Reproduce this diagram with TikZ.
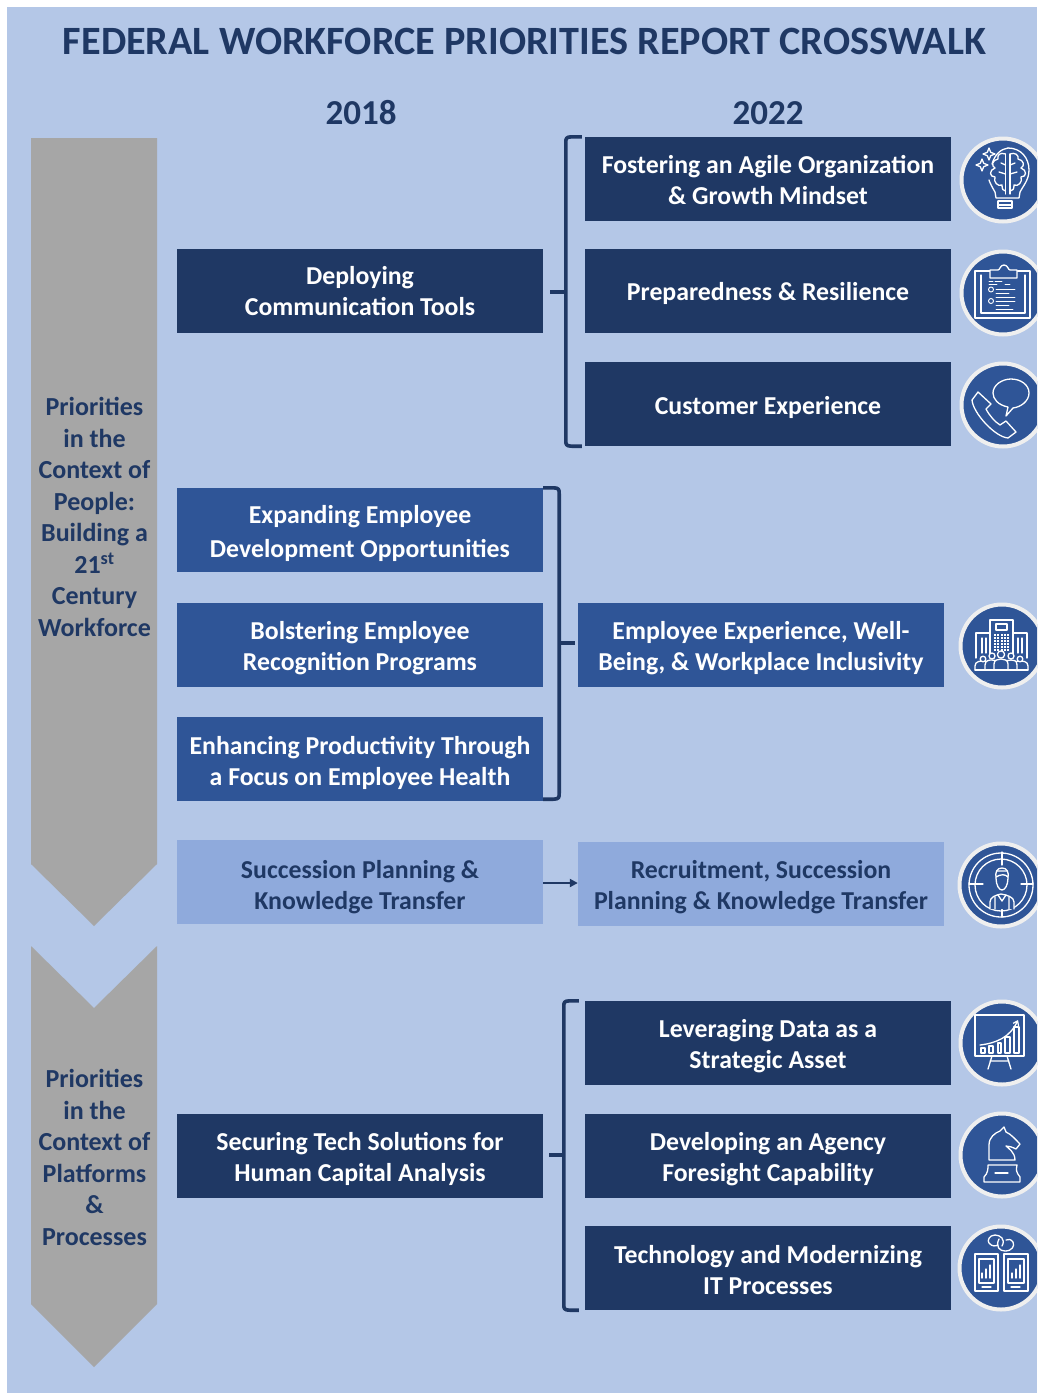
\documentclass[tikz,border=0pt]{standalone}
\usepackage{fontspec}
\setmainfont{Carlito}
\usetikzlibrary{calc,arrows.meta}
\definecolor{bgblue}{HTML}{B4C7E7}
\definecolor{navy}{HTML}{1F3864}
\definecolor{midblue}{HTML}{2F5597}
\definecolor{lightblue}{HTML}{8FAADC}
\definecolor{arrowgray}{HTML}{A6A6A6}
\definecolor{ringgray}{HTML}{EFEFEF}
\tikzset{
  boxbase/.style={rectangle,minimum width=366pt,minimum height=84pt,inner sep=0pt,align=center,
    font=\fontsize{25.8}{31}\selectfont\bfseries},
  darkbox/.style={boxbase,fill=navy,text=white},
  midbox/.style={boxbase,fill=midblue,text=white},
  lightbox/.style={boxbase,fill=lightblue,text=navy},
  bracketline/.style={draw=navy,line width=3.6pt,line join=round},
  head/.style={text=navy,font=\fontsize{35}{38}\selectfont\bfseries},
  coltext/.style={text=navy,align=center,inner sep=0pt,font=\fontsize{26}{31.5}\selectfont\bfseries},
  ic/.style={draw=white,line width=1.3pt,line join=round,line cap=round},
  icf/.style={ic,fill=midblue},
  dot/.style={fill=white,draw=none}
}
\newcommand{\bt}[2]{\raisebox{\dimexpr-6.5pt-#1pt\relax}[0pt][0pt]{\begin{tabular}{@{}c@{}}#2\end{tabular}}}
\newcommand{\iconcircle}{\fill[midblue,draw=ringgray,line width=4pt] (0,0) circle (41.5);}
\newcommand{\spark}[3]{\draw[ic] (#1,#2-#3) -- (#1+.28*#3,#2-.28*#3) -- (#1+#3,#2) -- (#1+.28*#3,#2+.28*#3) -- (#1,#2+#3) -- (#1-.28*#3,#2+.28*#3) -- (#1-#3,#2) -- (#1-.28*#3,#2-.28*#3) -- cycle;}
\begin{document}
\begin{tikzpicture}[x=1pt,y=-1pt]
\clip (0,0) rectangle (1037,1393);
\fill[white] (0,0) rectangle (1037,1393);
\fill[bgblue] (7,7) rectangle (1037,1393);
\node[text=navy,font=\fontsize{40.2}{42}\selectfont\bfseries] (title) at (524.5,41) {FEDERAL WORKFORCE PRIORITIES REPORT CROSSWALK};
\node[head] (y18) at (361,113) {2018};
\node[head] (y22) at (768,113) {2022};
% grey arrows
\fill[arrowgray] (31,138) -- (157,138) -- (157,864) -- (94,926) -- (31,864) -- cycle;
\fill[arrowgray] (31,946) -- (94,1008) -- (157,946) -- (157,1304) -- (94,1367) -- (31,1304) -- cycle;
\node[coltext] (col1) at (94.5,517) {Priorities\\in the\\Context of\\People:\\Building a\\21\textsuperscript{st}\\Century\\Workforce};
\node[coltext] (col2) at (94.5,1157.5) {Priorities\\in the\\Context of\\Platforms\\\&\\Processes};
% left boxes
\node[darkbox] (deploy) at (360,291) {\bt{2.5}{Deploying\\Communication Tools}};
\node[midbox] (expand) at (360,530) {\bt{4}{Expanding Employee\\[3pt]Development Opportunities}};
\node[midbox] (bolster) at (360,645) {\bt{3.5}{Bolstering Employee\\Recognition Programs}};
\node[midbox] (enhance) at (360,759) {\bt{4.5}{Enhancing Productivity Through\\a Focus on Employee Health}};
\node[lightbox] (succ) at (360,882) {\bt{5.5}{Succession Planning \&\\Knowledge Transfer}};
\node[darkbox] (secure) at (360,1156) {\bt{3.5}{Securing Tech Solutions for\\Human Capital Analysis}};
% right boxes
\node[darkbox] (agile) at (768,179) {\bt{3.5}{Fostering an Agile Organization\\\& Growth Mindset}};
\node[darkbox] (prep) at (768,291) {\bt{3}{Preparedness \& Resilience}};
\node[darkbox] (cust) at (768,404) {\bt{4}{Customer Experience}};
\node[midbox] (empx) at (761,645) {\bt{3.5}{Employee Experience, Well-\\Being, \& Workplace Inclusivity}};
\node[lightbox] (recr) at (761,884) {\bt{3.5}{Recruitment, Succession\\Planning \& Knowledge Transfer}};
\node[darkbox] (data) at (768,1043) {\bt{3.5}{Leveraging Data as a\\Strategic Asset}};
\node[darkbox] (fore) at (768,1156) {\bt{3.5}{Developing an Agency\\Foresight Capability}};
\node[darkbox] (tech) at (768,1268) {\bt{4.5}{Technology and Modernizing\\IT Processes}};
% brackets
\coordinate (b1m) at ($(prep.west)+(-19,0)$);
\draw[bracketline] ($(agile.north west)+(-3,0)$) -- ($(agile.north west)+(-13,0)$) .. controls ($(agile.north west)+(-19,0)$) and ($(agile.north west)+(-19,2)$) .. ($(agile.north west)+(-19,6)$) -- ($(cust.south west)+(-19,-6)$) .. controls ($(cust.south west)+(-19,-2)$) and ($(cust.south west)+(-19,0)$) .. ($(cust.south west)+(-13,0)$) -- ($(cust.south west)+(-3,0)$);
\draw[bracketline] ($(deploy.east)+(7,1)$) -- ($(b1m)+(0,1)$);
\coordinate (b2m) at ($(bolster.east)+(16,-2)$);
\draw[bracketline] (expand.north east) -- ($(expand.north east)+(10,0)$) .. controls ($(expand.north east)+(16,0)$) and ($(expand.north east)+(16,2)$) .. ($(expand.north east)+(16,6)$) -- ($(enhance.south east)+(16,-8)$) .. controls ($(enhance.south east)+(16,-4)$) and ($(enhance.south east)+(16,-2)$) .. ($(enhance.south east)+(10,-2)$) -- ($(enhance.south east)+(0,-2)$);
\draw[bracketline] (b2m) -- ($(empx.west)+(-3,-2)$);
\coordinate (b3m) at ($(fore.west)+(-21,0)$);
\draw[bracketline] ($(data.north west)+(-6,0)$) -- ($(data.north west)+(-15,0)$) .. controls ($(data.north west)+(-21,0)$) and ($(data.north west)+(-21,2)$) .. ($(data.north west)+(-21,6)$) -- ($(tech.south west)+(-21,-6)$) .. controls ($(tech.south west)+(-21,-2)$) and ($(tech.south west)+(-21,0)$) .. ($(tech.south west)+(-15,0)$) -- ($(tech.south west)+(-6,0)$);
\draw[bracketline] ($(secure.east)+(6,-1)$) -- ($(b3m)+(0,-1)$);
\draw[draw=navy,line width=2pt,-{Triangle[length=8pt,width=8pt]}] ($(succ.east)+(0,1)$) -- ($(recr.west)+(0,-1)$);
% icon 1: bulb and brain
\begin{scope}[shift={(1003,180)}]
\iconcircle
\draw[ic] (5,-32) .. controls (18,-32) and (26,-22) .. (26,-10) .. controls (26,0) and (20,6) .. (17,12) -- (16,18) -- (-7,18) -- (-8,12) .. controls (-11,7) and (-13,3) .. (-14,0);
\draw[ic] (-11,-16) .. controls (-8,-26) and (-2,-31) .. (5,-32);
\draw[ic] (2.5,-26) -- (2.5,14) (7,-26) -- (7,14);
\draw[ic] (2.5,-26) .. controls (-3,-28) and (-6,-25) .. (-5,-21) .. controls (-11,-20) and (-12,-14) .. (-8,-12) .. controls (-14,-10) and (-14,-3) .. (-8,-3) .. controls (-10,2) and (-5,7) .. (-1,5) .. controls (-1,9) and (0,11) .. (2.5,11);
\draw[ic] (7,-26) .. controls (12,-28) and (16,-25) .. (15,-21) .. controls (21,-20) and (22,-14) .. (18,-12) .. controls (24,-10) and (24,-3) .. (18,-3) .. controls (20,2) and (15,7) .. (11,5) .. controls (11,9) and (10,11) .. (7,11);
\draw[ic] (-2,-17) -- (2.5,-15) (-4,-8) -- (2.5,-6) (12,-17) -- (7,-15) (14,-8) -- (7,-6);
\draw[ic] (-5,21) -- (9,21) (-5,25) -- (9,25) (-5,28) -- (9,28) (-5,21) -- (-5,28) (9,21) -- (9,28);
\spark{-14}{-26}{6}
\spark{-21}{-15}{6}
\end{scope}
% icon 2: clipboard
\begin{scope}[shift={(1003,293)}]
\iconcircle
\draw[ic] (-28,-22) rectangle (27,25);
\draw[ic] (-22,-18) -- (-22,20) -- (22,20) -- (22,-18);
\draw[icf] (-13,-15) -- (-13,-23) -- (-5,-23) .. controls (-3,-23) and (-3,-28) .. (1,-28) .. controls (5,-28) and (5,-23) .. (7,-23) -- (14,-23) -- (14,-15) -- cycle;
\draw[ic,line width=.9pt] (-14,-12) -- (-10,-12) (-8,-12) -- (-1,-12) (-14,-9) -- (-6,-9) (2,-9) -- (7,-9);
\draw[ic,line width=.9pt] (-12,-3.5) circle (2.5) (-12,8) circle (2.5);
\draw[ic,line width=.9pt] (-7,-3.5) -- (12,-3.5) (-7,0) -- (6,0) (-7,4) -- (12,4) (-7,8) -- (12,8) (-7,12) -- (6,12) (-7,16) -- (10,16);
\end{scope}
% icon 3: phone and bubble
\begin{scope}[shift={(1003,405)}]
\iconcircle
\draw[ic] (-25,-13) -- (-31,-5) .. controls (-30,8) and (-8,32) .. (5,33) -- (13,27) -- (3,16) -- (-3,20) .. controls (-8,17) and (-14,10) .. (-17,4) -- (-12,-1) -- cycle;
\draw[ic] (3,11) -- (5,2) .. controls (-5,0) and (-10,-6) .. (-10,-12) .. controls (-10,-20) and (-1,-26) .. (8,-26) .. controls (18,-26) and (26,-20) .. (26,-12) .. controls (26,-4) and (18,2) .. (10,3) -- cycle;
\end{scope}
% icon 4: buildings and people
\begin{scope}[shift={(1002,646)}]
\iconcircle
\draw[ic] (-26,12) -- (-26,-13) -- (-12,-13) (25,12) -- (25,-13) -- (12,-13);
\draw[ic] (-12,8) -- (-12,-26) -- (11,-26) -- (11,8);
\draw[ic] (-6,-22) rectangle (5,-16);
\draw[ic] (-20,-8) -- (-20,7) (-16,-8) -- (-16,7) (16,-8) -- (16,7) (20,-8) -- (20,7);
\foreach \xx in {-7,-3.7,-.4,2.9,6.2}{\foreach \yy in {-11,-8,-5,-2,1,4}{\fill[dot] (\xx-1,\yy-1) rectangle (\xx+1,\yy+1);}}
\draw[icf] (-27,24) -- (-27,20) .. controls (-27,15) and (-21,15) .. (-19,15) .. controls (-17,15) and (-12,15) .. (-12,20) -- (-12,24) -- cycle;
\draw[icf] (-19,13) circle (2.8);
\draw[icf] (26,24) -- (26,20) .. controls (26,15) and (20,15) .. (18,15) .. controls (16,15) and (11,15) .. (11,20) -- (11,24) -- cycle;
\draw[icf] (18,13) circle (2.8);
\draw[icf] (-17,24) -- (-17,19) .. controls (-17,14) and (-12,14) .. (-10,14) .. controls (-8,14) and (-4,14) .. (-4,19) -- (-4,24) -- cycle;
\draw[icf] (-10,10) circle (3);
\draw[icf] (15,24) -- (15,19) .. controls (15,14) and (11,14) .. (9,14) .. controls (7,14) and (3,14) .. (3,19) -- (3,24) -- cycle;
\draw[icf] (9,10) circle (3);
\draw[icf] (-8,24) -- (-8,18) .. controls (-8,14) and (-4,13) .. (-1,13) .. controls (2,13) and (6,14) .. (6,18) -- (6,24) -- cycle;
\draw[icf] (-1,8.5) circle (3.6);
\draw[ic] (-27,24) -- (26,24);
\end{scope}
% icon 5: target and person
\begin{scope}[shift={(1001,885)}]
\iconcircle
\draw[ic] (0,0) circle (32) (0,0) circle (26);
\draw[ic] (1,-33) -- (1,-20) (-32,-1) -- (-18,-1) (20,-1) -- (32,-1) (1,20) -- (1,32);
\draw[icf] (-11,24) -- (-11,17) .. controls (-11,12) and (-5,10) .. (0,9) .. controls (6,10) and (13,12) .. (13,17) -- (13,24);
\draw[icf] (-5,-7) .. controls (-6,-13) and (-4,-17) .. (1,-17) .. controls (6,-17) and (8,-13) .. (7,-7) .. controls (7,0) and (4,5) .. (1,5) .. controls (-2,5) and (-5,0) .. (-5,-7) -- cycle;
\draw[ic] (-5,-8) .. controls (0,-11) and (4,-11) .. (7,-8) (-4,-14) -- (6,-14);
\draw[ic] (-6,12) -- (-6,24) (8,12) -- (8,24) (-3,10) -- (1,16) -- (5,10);
\end{scope}
% icon 6: chart board
\begin{scope}[shift={(1002,1043)}]
\iconcircle
\draw[ic] (-27,-28) rectangle (22,13);
\draw[ic] (-10,13) -- (-14,26) (5,13) -- (9,26) (-12,18) -- (7,18);
\draw[ic] (-21,5) rectangle (-17,10) (-13,3) rectangle (-9,10) (-4,0) rectangle (-1,10) (3,-6) rectangle (8,10) (12,-16) rectangle (17,10);
\draw[ic,-{Straight Barb[length=4pt,width=6pt]}] (-22,2) .. controls (-5,0) and (8,-6) .. (16,-23);
\end{scope}
% icon 7: knight
\begin{scope}[shift={(1002,1155)}]
\iconcircle
\draw[ic] (-13,5) -- (-13,-10) .. controls (-13,-18) and (-7,-22) .. (-2,-24) -- (2,-28) -- (4,-23) .. controls (9,-21) and (14,-15) .. (18,-11) -- (14,-6) .. controls (10,-8) and (7,-9) .. (4,-9) .. controls (6,-7) and (13,-3) .. (13,5) -- cycle;
\draw[ic] (-14,10) -- (15,10) .. controls (14,15) and (14,17) .. (18,22) -- (18,27) -- (-18,27) -- (-18,22) .. controls (-14,18) and (-14,14) .. (-14,10) -- cycle;
\draw[ic] (-7,18) -- (6,18);
\end{scope}
% icon 8: tablets
\begin{scope}[shift={(1001,1268)}]
\iconcircle
\draw[ic] (-26,-14) rectangle (-3,23) (3,-14) rectangle (27,23);
\draw[ic] (-22,-9) rectangle (-7,15) (7,-9) rectangle (23,15);
\draw[ic] (-19,10) -- (-19,5) (-15,10) -- (-15,1) (-11,10) -- (-11,-3);
\draw[ic] (11,10) -- (11,5) (15,10) -- (15,1) (19,10) -- (19,-3);
\draw[ic] (-19,19) -- (-10,19) (10,19) -- (19,19);
\draw[ic] (1,-22) .. controls (5,-29) and (-1,-33) .. (-6,-33) .. controls (-12,-33) and (-14,-27) .. (-12,-25) .. controls (-9,-21) and (-5,-22) .. (-3,-23);
\draw[ic] (-2,-29) .. controls (-6,-21) and (-1,-17) .. (4,-17) .. controls (11,-17) and (14,-22) .. (12,-26) .. controls (10,-29) and (7,-29) .. (5,-28);
\end{scope}
\end{tikzpicture}
\end{document}
